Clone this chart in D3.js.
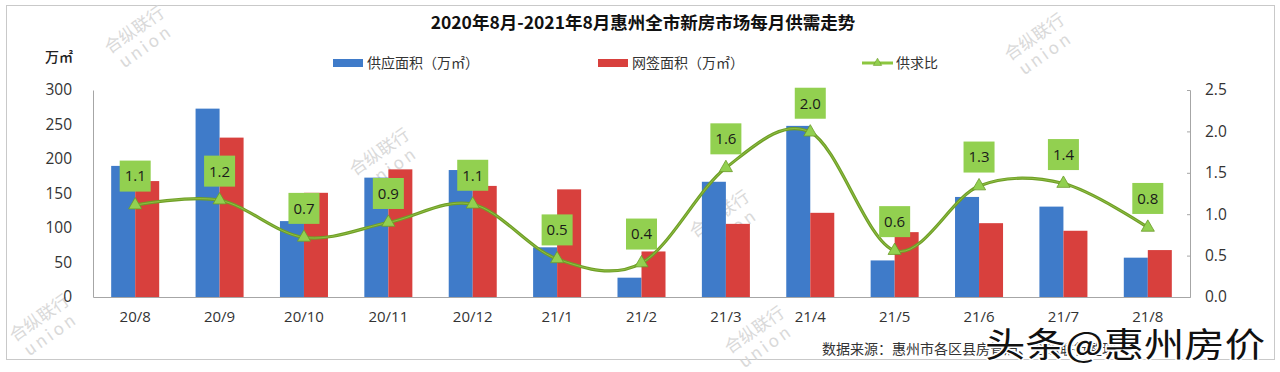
<!DOCTYPE html>
<html><head><meta charset="utf-8">
<script src="https://cdn.jsdelivr.net/npm/d3@7/dist/d3.min.js"></script>
<style>
html,body{margin:0;padding:0;background:#fff;}
svg{display:block;font-family:"Noto Sans CJK SC","Noto Sans",sans-serif;}
</style></head>
<body><svg id="chart" width="1280" height="372"></svg>
<script>
const categories = ["20/8","20/9","20/10","20/11","20/12","21/1","21/2","21/3","21/4","21/5","21/6","21/7","21/8"];
const supplyArea = [190,273,110,173,184,72,28,167,248,53,145,131,57];
const signedArea = [168,231,151,185,161,156,66,106,122,94,107,96,68];
const ratio = [1.11,1.17,0.72,0.90,1.12,0.46,0.41,1.56,1.99,0.56,1.34,1.37,0.84];
const leftTicks = [0,50,100,150,200,250,300];
const rightTicks = [0,0.5,1.0,1.5,2.0,2.5];
const seriesNames = ["供应面积（万㎡）","网签面积（万㎡）","供求比"];
const titleText = "2020年8月-2021年8月惠州全市新房市场每月供需走势";
const unitText = "万㎡";
const sourceText = "数据来源：惠州市各区县房管局、合纵联行整理";

const svg = d3.select("#chart");
const C = {blue:"#3f7bc9", red:"#d8403d", line:"#6f9f26", mark:"#92d050", axis:"#a6a6a6", text:"#333"};
const L = 93, R = 1190, T = 90, B = 297;

// frame
svg.append("rect").attr("x",6.5).attr("y",5.5).attr("width",1268).attr("height",354)
  .attr("fill","#fff").attr("stroke","#c9c9c9");

// watermarks
const wm = [[140,38],[1040,45],[385,160],[725,222],[45,326],[760,338]];
wm.forEach(([x,y])=>{
  const g = svg.append("g").attr("transform",`translate(${x},${y}) rotate(-35)`).attr("fill","#d9d9d9").attr("text-anchor","middle");
  g.append("text").attr("y",-4).attr("font-size",17).text("合纵联行");
  g.append("text").attr("y",16).attr("font-size",17).attr("letter-spacing",3).text("union");
});

const x0 = d3.scaleBand().domain(categories).range([L,R]).paddingInner(0.431).paddingOuter(0.2155);
const x1 = d3.scaleBand().domain(["s","n"]).range([0,x0.bandwidth()]);
const yL = d3.scaleLinear().domain([0,300]).range([B,T]);
const yR = d3.scaleLinear().domain([0,2.5]).range([B,T]);

// bars
svg.append("g").selectAll("rect").data(supplyArea).join("rect")
  .attr("x",(d,i)=>x0(categories[i])+x1("s")).attr("width",x1.bandwidth())
  .attr("y",d=>yL(d)).attr("height",d=>B-yL(d)).attr("fill",C.blue);
svg.append("g").selectAll("rect").data(signedArea).join("rect")
  .attr("x",(d,i)=>x0(categories[i])+x1("n")).attr("width",x1.bandwidth())
  .attr("y",d=>yL(d)).attr("height",d=>B-yL(d)).attr("fill",C.red);

// axes
const gl = svg.append("g").attr("transform",`translate(${L},0)`)
  .call(d3.axisLeft(yL).tickValues(leftTicks).tickSize(0).tickPadding(21));
gl.select(".domain").attr("stroke",C.axis);
gl.selectAll("text").attr("font-size",15.5).attr("fill",C.text).attr("font-family","Open Sans, Noto Sans, sans-serif");

const gr = svg.append("g").attr("transform",`translate(${R},0)`)
  .call(d3.axisRight(yR).tickValues(rightTicks).tickFormat(d3.format(".1f")).tickSize(-3).tickPadding(15));
gr.select(".domain").attr("stroke",C.axis);
gr.selectAll("line").attr("stroke",C.axis);
gr.selectAll("text").attr("font-size",15.5).attr("fill",C.text).attr("font-family","Open Sans, Noto Sans, sans-serif");

const gb = svg.append("g").attr("transform",`translate(0,${B})`)
  .call(d3.axisBottom(x0).tickSize(0).tickSizeOuter(0).tickPadding(14));
gb.select(".domain").attr("stroke",C.axis);
gb.selectAll("text").attr("font-size",15).attr("fill",C.text).attr("font-family","Open Sans, Noto Sans, sans-serif");

// line
const cx = i => x0(categories[i]) + x0.bandwidth()/2;
const line = d3.line().x((d,i)=>cx(i)).y(d=>yR(d)).curve(d3.curveCardinal.tension(0));
svg.append("path").datum(ratio).attr("d",line).attr("fill","none").attr("stroke",C.line).attr("stroke-width",3.2);
svg.append("path").datum(ratio).attr("d",line).attr("fill","none").attr("stroke","#a9d65e").attr("stroke-width",0.8).attr("opacity",0.7);

const tri = d3.symbol().type(d3.symbolTriangle).size(75);
svg.append("g").selectAll("path").data(ratio).join("path")
  .attr("d",tri).attr("transform",(d,i)=>`translate(${cx(i)},${yR(d)})`)
  .attr("fill",C.mark).attr("stroke","#6b9a28").attr("stroke-width",0.8);

// labels
const lg = svg.append("g").selectAll("g").data(ratio).join("g")
  .attr("transform",(d,i)=>`translate(${cx(i)},${yR(d)-29})`);
lg.append("rect").attr("x",-15.5).attr("y",-15.5).attr("width",31).attr("height",31).attr("fill",C.mark);
lg.append("text").attr("text-anchor","middle").attr("dy","0.36em").attr("font-size",15)
  .attr("font-family","Open Sans, Noto Sans, sans-serif").attr("fill","#1a1a1a").text(d=>d.toFixed(1));

// title
svg.append("text").attr("x",643).attr("y",29).attr("text-anchor","middle")
  .attr("font-size",17.5).attr("font-weight","bold").attr("fill","#111").text(titleText);

// unit
svg.append("text").attr("x",45).attr("y",62).attr("font-size",14).attr("font-weight",500).attr("fill","#222").text(unitText);

// legend
const leg = svg.append("g").attr("font-size",14).attr("fill",C.text);
leg.append("rect").attr("x",333).attr("y",59).attr("width",30).attr("height",8).attr("fill",C.blue);
leg.append("text").attr("x",367).attr("y",68).text(seriesNames[0]);
leg.append("rect").attr("x",598).attr("y",59).attr("width",30).attr("height",8).attr("fill",C.red);
leg.append("text").attr("x",632).attr("y",68).text(seriesNames[1]);
leg.append("line").attr("x1",862).attr("x2",893).attr("y1",63).attr("y2",63).attr("stroke","#8cc63f").attr("stroke-width",3);
leg.append("path").attr("d",d3.symbol().type(d3.symbolTriangle).size(30)).attr("transform","translate(877.5,63)").attr("fill",C.mark).attr("stroke","#6b9a28").attr("stroke-width",0.6);
leg.append("text").attr("x",896).attr("y",68).text(seriesNames[2]);

// source
svg.append("text").attr("x",822).attr("y",354).attr("font-size",14).attr("fill",C.text).text(sourceText);

// platform watermark
svg.append("text").attr("x",985).attr("y",357).attr("font-size",34).attr("textLength",280)
  .attr("lengthAdjust","spacingAndGlyphs").attr("fill","#111").attr("stroke","#fff").attr("stroke-width",3)
  .attr("paint-order","stroke").text("头条@惠州房价");
</script></body></html>
